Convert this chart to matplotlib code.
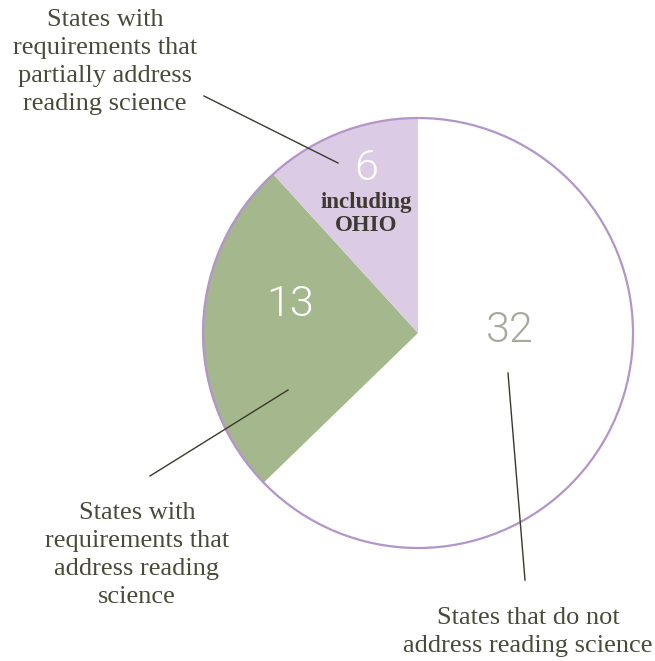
import matplotlib.pyplot as plt
from matplotlib.patches import Circle

# data
counts = [32, 13, 6]
colors = ['white', '#a5b78c', '#dccbe5']
number_labels = ['32', '13', '6']
category_labels = [
    'States that do not\naddress reading science',
    'States with\nrequirements that\naddress reading\nscience',
    'States with\nrequirements that\npartially address\nreading science',
]

W, H = 655, 661
fig = plt.figure(figsize=(W / 100, H / 100), dpi=100)
ax = fig.add_axes([0, 0, 1, 1])

cx, cy, r = 418, H - 333, 215
ax.pie(counts, colors=colors, startangle=90, counterclock=False,
       center=(cx, cy), radius=r, frame=True,
       wedgeprops=dict(linewidth=0))
ax.set_xlim(0, W)
ax.set_ylim(0, H)
ax.set_aspect('equal')
ax.axis('off')
ax.add_patch(Circle((cx, cy), r, fill=False, edgecolor='#b395c9', lw=1.6, zorder=5))

def py(y):
    return H - y

txt = '#4a4a3b'
serif = 'Liberation Serif'
num_font = dict(fontsize=31, family='Roboto', weight=300, ha='center', va='center')

# numbers
ax.text(510, py(330), number_labels[0], color='#a9a99b', **num_font)
ax.text(290, py(305), number_labels[1], color='white', **num_font)
ax.text(366, py(169), number_labels[2], color='white', **num_font)
ax.text(366, py(214), 'including\nOHIO', color='#3d3a30', fontsize=16.5,
        family=serif, weight='bold', ha='center', va='center', linespacing=1.15)

# category labels
lab = dict(color=txt, fontsize=19, family=serif, ha='center', va='center', linespacing=1.35)
ax.text(105, py(62), category_labels[2], **lab)
ax.text(137, py(555), category_labels[1], **lab)
ax.text(528, py(632), category_labels[0], **lab)

# leader lines
lc = '#3a3a2c'
ax.plot([204, 338], [py(96), py(163)], color=lc, lw=1, zorder=6)
ax.plot([150, 288], [py(476), py(390)], color=lc, lw=1, zorder=6)
ax.plot([508, 525], [py(373), py(580)], color=lc, lw=1, zorder=6)

fig.savefig('out.png', dpi=100)
